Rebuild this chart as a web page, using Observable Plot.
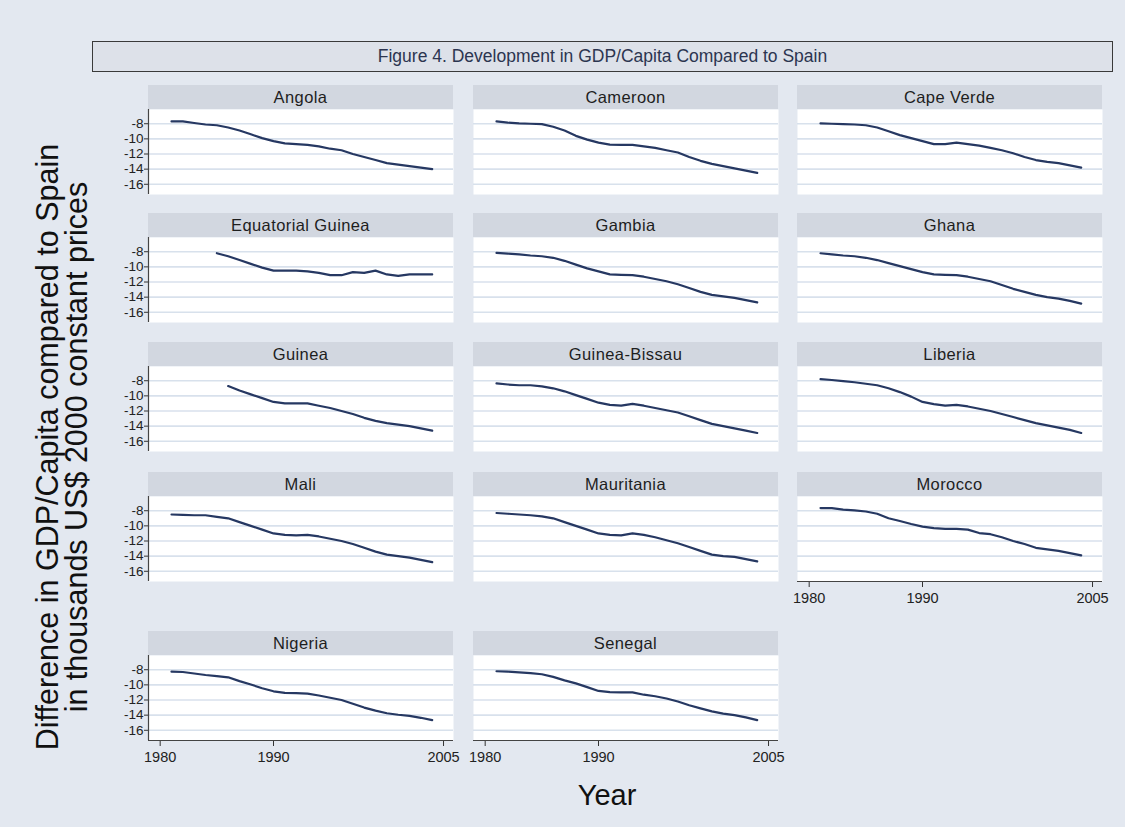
<!DOCTYPE html>
<html>
<head>
<meta charset="utf-8">
<script src="https://cdn.jsdelivr.net/npm/d3@7"></script>
<script src="https://cdn.jsdelivr.net/npm/@observablehq/plot@0.6"></script>
<style>
  html, body { margin: 0; padding: 0; background: #e3e8f0; }
  #chart { position: relative; width: 1125px; height: 827px; background: #e3e8f0; font-family: "Liberation Sans", Arial, sans-serif; overflow: hidden; }
  .title { position: absolute; left: 92px; top: 41px; width: 1019px; height: 29px; border: 1px solid #3a3a3a; background: #dde1e9; color: #2c3550; font-size: 17.5px; line-height: 29px; text-align: center; }
  .strip { position: absolute; height: 24px; background: #d2d7e0; color: #1e1e1e; font-size: 16.5px; letter-spacing: 0.4px; line-height: 24px; text-align: center; }
  .panel { position: absolute; }
  .ytitle { position: absolute; left: 62px; top: 447px; transform: translate(-50%, -50%) rotate(-90deg); white-space: nowrap; text-align: center; font-size: 30.5px; line-height: 29px; color: #111; }
  .xtitle { position: absolute; left: 607px; top: 795px; transform: translate(-50%, -50%); font-size: 29px; color: #111; }
</style>
</head>
<body>
<div id="chart"></div>
<script>
const countries = ["Angola", "Cameroon", "Cape Verde", "Equatorial Guinea", "Gambia", "Ghana", "Guinea", "Guinea-Bissau", "Liberia", "Mali", "Mauritania", "Morocco", "Nigeria", "Senegal"];
const years = [1981, 1982, 1983, 1984, 1985, 1986, 1987, 1988, 1989, 1990, 1991, 1992, 1993, 1994, 1995, 1996, 1997, 1998, 1999, 2000, 2001, 2002, 2003, 2004];

const angola = [-7.7, -7.7, -7.9, -8.1, -8.2, -8.5, -8.9, -9.4, -9.9, -10.3, -10.6, -10.7, -10.8, -11.0, -11.3, -11.5, -12.0, -12.4, -12.8, -13.2, -13.4, -13.6, -13.8, -14.0];
const cameroon = [-7.7, -7.85, -7.95, -8.0, -8.05, -8.4, -8.9, -9.6, -10.1, -10.5, -10.75, -10.8, -10.8, -11.0, -11.2, -11.5, -11.8, -12.4, -12.9, -13.3, -13.6, -13.9, -14.2, -14.5];
const capeVerde = [-7.95, -8.0, -8.05, -8.1, -8.2, -8.5, -9.0, -9.5, -9.9, -10.3, -10.7, -10.7, -10.5, -10.7, -10.9, -11.2, -11.5, -11.9, -12.4, -12.8, -13.05, -13.2, -13.5, -13.8];
const eqGuinea = [-8.2, -8.6, -9.1, -9.6, -10.1, -10.5, -10.5, -10.5, -10.6, -10.8, -11.1, -11.1, -10.7, -10.8, -10.5, -11.0, -11.2, -11.0, -11.0, -11.0];
const gambia = [-8.15, -8.25, -8.35, -8.5, -8.6, -8.8, -9.2, -9.7, -10.2, -10.6, -11.0, -11.05, -11.1, -11.3, -11.6, -11.9, -12.3, -12.8, -13.3, -13.7, -13.9, -14.1, -14.4, -14.7];
const ghana = [-8.2, -8.35, -8.5, -8.6, -8.8, -9.1, -9.5, -9.9, -10.3, -10.7, -11.0, -11.05, -11.1, -11.3, -11.6, -11.9, -12.4, -12.9, -13.3, -13.7, -14.0, -14.2, -14.5, -14.85];
const guinea = [-8.7, -9.3, -9.8, -10.3, -10.8, -11.0, -11.0, -11.0, -11.3, -11.6, -12.0, -12.4, -12.9, -13.3, -13.6, -13.8, -14.0, -14.3, -14.6];
const guineaBissau = [-8.35, -8.5, -8.6, -8.6, -8.75, -9.0, -9.4, -9.9, -10.4, -10.9, -11.2, -11.3, -11.05, -11.3, -11.6, -11.9, -12.2, -12.7, -13.2, -13.7, -14.0, -14.3, -14.6, -14.9];
const liberia = [-7.8, -7.9, -8.05, -8.2, -8.4, -8.6, -9.0, -9.5, -10.1, -10.8, -11.1, -11.3, -11.2, -11.4, -11.7, -12.0, -12.4, -12.8, -13.2, -13.6, -13.9, -14.2, -14.5, -14.9];
const mali = [-8.5, -8.55, -8.6, -8.6, -8.8, -9.0, -9.5, -10.0, -10.5, -11.0, -11.2, -11.25, -11.2, -11.4, -11.7, -12.0, -12.4, -12.9, -13.4, -13.8, -14.0, -14.2, -14.5, -14.8];
const mauritania = [-8.3, -8.4, -8.5, -8.6, -8.75, -9.0, -9.5, -10.0, -10.5, -11.0, -11.2, -11.25, -11.0, -11.2, -11.5, -11.9, -12.3, -12.8, -13.3, -13.8, -14.0, -14.1, -14.4, -14.7];
const morocco = [-7.65, -7.65, -7.85, -7.95, -8.1, -8.4, -9.0, -9.35, -9.75, -10.1, -10.3, -10.4, -10.4, -10.5, -10.95, -11.1, -11.5, -12.0, -12.4, -12.9, -13.1, -13.3, -13.6, -13.9];
const nigeria = [-8.25, -8.3, -8.5, -8.7, -8.85, -9.0, -9.5, -9.95, -10.45, -10.85, -11.05, -11.1, -11.15, -11.4, -11.7, -12.0, -12.5, -13.0, -13.4, -13.75, -13.95, -14.1, -14.35, -14.65];
const senegal = [-8.2, -8.25, -8.35, -8.45, -8.6, -8.95, -9.4, -9.8, -10.3, -10.8, -10.95, -11.0, -11.0, -11.3, -11.5, -11.8, -12.2, -12.7, -13.1, -13.5, -13.8, -14.0, -14.3, -14.65];

const seriesValues = [angola, cameroon, capeVerde, eqGuinea, gambia, ghana, guinea, guineaBissau, liberia, mali, mauritania, morocco, nigeria, senegal];

const yTicks = [-8, -10, -12, -14, -16];
const xTicks = [1980, 1990, 2005];
const titleText = "Figure 4. Development in GDP/Capita Compared to Spain";
const yTitle = ["Difference in GDP/Capita compared to Spain", "in thousands US$ 2000 constant prices"];
const xTitle = "Year";

// layout
const colLeft = [148, 473, 797];
const stripTop = [85, 213, 342, 472, 631];
const plotW = 305, plotH = 85, stripH = 24;
const xDomain = [1978.97, 2005.88];
const yDomain = [-17.35, -6.12];
const bottomPanels = new Set(["Morocco", "Nigeria", "Senegal"]);

const chart = document.getElementById("chart");

const t = document.createElement("div");
t.className = "title";
t.textContent = titleText;
chart.appendChild(t);

const yt = document.createElement("div");
yt.className = "ytitle";
yTitle.forEach(s => { const d = document.createElement("div"); d.textContent = s; yt.appendChild(d); });
chart.appendChild(yt);

const xt = document.createElement("div");
xt.className = "xtitle";
xt.textContent = xTitle;
chart.appendChild(xt);

countries.forEach((name, i) => {
  const row = Math.floor(i / 3), col = i % 3;
  const vals = seriesValues[i];
  const yrs = years.slice(years.length - vals.length);
  const data = vals.map((v, k) => ({year: yrs[k], value: v}));
  const left = colLeft[col];
  const top = stripTop[row];

  const strip = document.createElement("div");
  strip.className = "strip";
  strip.style.left = left + "px";
  strip.style.top = top + "px";
  strip.style.width = plotW + "px";
  strip.textContent = name;
  chart.appendChild(strip);

  const isBottom = bottomPanels.has(name);
  const ml = col === 0 ? 40 : 18;
  const mr = 18;
  const mb = isBottom ? 32 : 0;

  const marks = [
    Plot.frame({fill: "white", stroke: null}),
    Plot.gridY(yTicks, {stroke: "#d8e1ec", strokeOpacity: 1, strokeWidth: 1.6}),
    Plot.line(data, {x: "year", y: "value", stroke: "#263862", strokeWidth: 2.2, curve: "linear"})
  ];
  if (col === 0) {
    marks.push(Plot.axisY(yTicks, {anchor: "left", label: null, tickSize: 4, tickPadding: 1, fontSize: 13.5, stroke: "#333", fill: "#222", tickFormat: d => String(d)}));
    marks.push(Plot.ruleX([xDomain[0]], {stroke: "#444", strokeWidth: 1.2}));
  }
  if (isBottom) {
    marks.push(Plot.axisX(xTicks, {anchor: "bottom", label: null, tickSize: 6, tickPadding: 5, fontSize: 14.5, stroke: "#333", fill: "#222", tickFormat: d => String(d)}));
    marks.push(Plot.ruleY([yDomain[0]], {stroke: "#444", strokeWidth: 1.2}));
  }

  const svg = Plot.plot({
    width: plotW + ml + mr,
    height: plotH + mb,
    marginLeft: ml,
    marginRight: mr,
    marginTop: 0,
    marginBottom: mb,
    x: {domain: xDomain, axis: null},
    y: {domain: yDomain, axis: null},
    style: {background: "transparent", fontFamily: "Liberation Sans, Arial, sans-serif", fontSize: "13px", overflow: "visible", color: "#222"},
    marks
  });
  svg.classList.add("panel");
  svg.style.position = "absolute";
  svg.style.left = (left - ml) + "px";
  svg.style.top = (top + stripH) + "px";
  chart.appendChild(svg);
});
</script>
</body>
</html>
